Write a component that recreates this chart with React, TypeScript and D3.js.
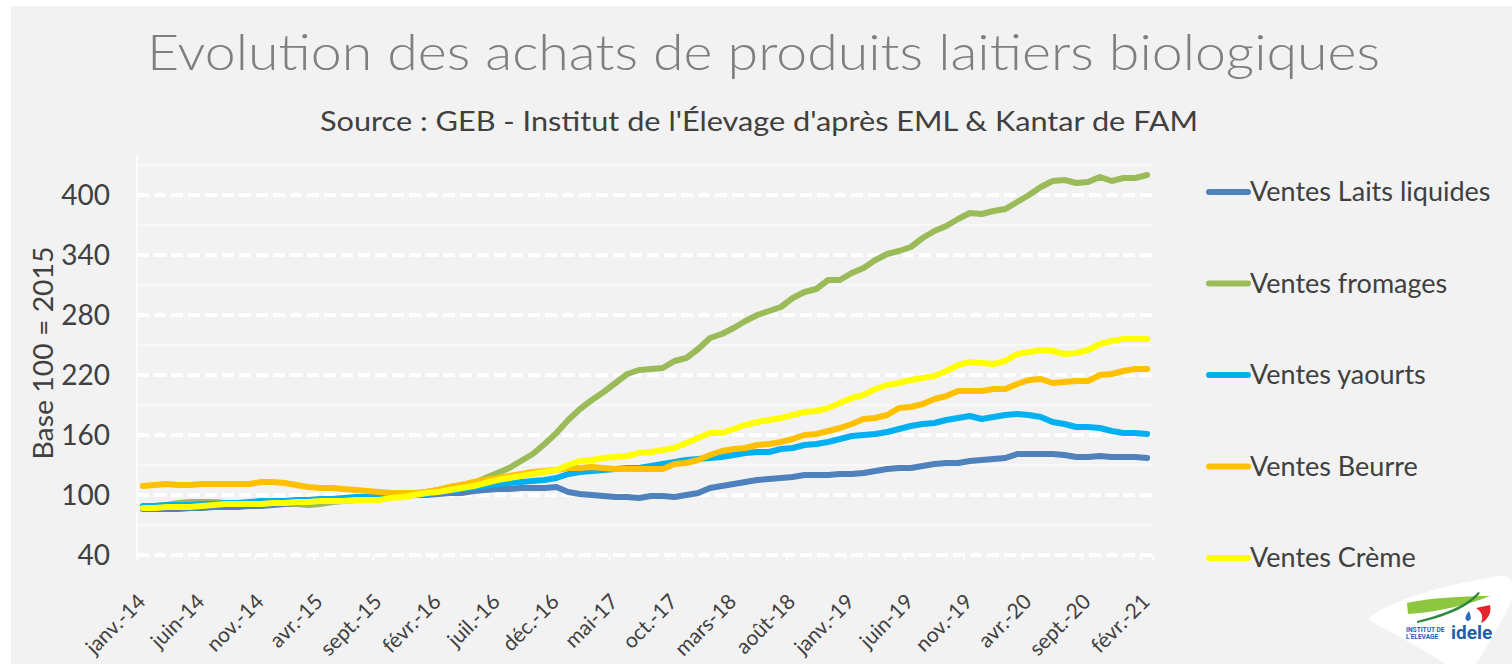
import React from 'react';
import * as d3 from 'd3';

// months janv.-14 .. févr.-21 (86 points)
const monthNames = ['janv.', 'févr.', 'mars', 'avr.', 'mai', 'juin', 'juil.', 'août', 'sept.', 'oct.', 'nov.', 'déc.'];
const years = ['14', '15', '16', '17', '18', '19', '20', '21'];
const months = years.flatMap((yy) => monthNames.map((m) => `${m}-${yy}`)).slice(0, 86);

const laits = [
  86, 86, 86, 86, 87, 87, 88, 88, 88, 89, 89, 90, 91, 91, 92, 93, 94, 95, 96, 97,
  97, 98, 99, 100, 100, 101, 102, 102, 104, 105, 106, 106, 107, 107, 107, 108, 103, 101, 100, 99,
  98, 98, 97, 99, 99, 98, 100, 102, 107, 109, 111, 113, 115, 116, 117, 118, 120, 120, 120, 121,
  121, 122, 124, 126, 127, 127, 129, 131, 132, 132, 134, 135, 136, 137, 141, 141, 141, 141, 140, 138,
  138, 139, 138, 138, 138, 137,
];

const fromages = [
  88, 89, 90, 92, 93, 93, 93, 92, 92, 92, 91, 92, 92, 91, 90, 91, 93, 94, 95, 96,
  97, 98, 99, 101, 103, 105, 108, 110, 112, 117, 122, 127, 134, 141, 151, 162, 175, 186, 195, 203,
  212, 221, 225, 226, 227, 234, 237, 246, 257, 261, 267, 274, 280, 284, 288, 297, 303, 306, 315, 315,
  322, 327, 335, 341, 344, 348, 357, 364, 369, 376, 382, 381, 384, 386, 393, 400, 408, 414, 415, 412,
  413, 418, 414, 417, 417, 420,
];

const yaourts = [
  89, 89, 90, 90, 90, 91, 91, 92, 92, 93, 94, 94, 94, 95, 95, 96, 96, 97, 98, 98,
  99, 99, 100, 100, 101, 103, 104, 106, 108, 109, 111, 112, 113, 114, 115, 117, 121, 123, 124, 125,
  126, 127, 127, 129, 131, 133, 135, 136, 137, 138, 140, 142, 143, 143, 146, 147, 150, 151, 153, 156,
  159, 160, 161, 163, 166, 169, 171, 172, 175, 177, 179, 176, 178, 180, 181, 180, 178, 173, 171, 168,
  168, 167, 164, 162, 162, 161,
];

const beurre = [
  109, 110, 111, 110, 110, 111, 111, 111, 111, 111, 113, 113, 112, 110, 108, 107, 107, 106, 105, 104,
  103, 102, 102, 102, 103, 105, 108, 110, 113, 115, 117, 119, 121, 123, 124, 125, 127, 127, 128, 127,
  126, 126, 126, 126, 126, 131, 132, 135, 140, 144, 146, 147, 150, 151, 153, 156, 160, 161, 164, 167,
  171, 176, 177, 180, 187, 188, 191, 196, 199, 204, 204, 204, 206, 206, 211, 215, 216, 212, 213, 214,
  214, 220, 221, 224, 226, 226,
];

const creme = [
  87, 87, 88, 88, 88, 89, 90, 91, 91, 91, 91, 92, 92, 93, 93, 94, 94, 94, 95, 95,
  95, 97, 98, 100, 102, 103, 105, 107, 109, 112, 115, 117, 119, 121, 123, 125, 130, 134, 135, 137,
  138, 139, 142, 143, 145, 147, 152, 157, 162, 162, 166, 170, 173, 175, 177, 180, 183, 184, 187, 192,
  197, 200, 206, 210, 212, 215, 217, 219, 224, 230, 233, 232, 231, 234, 241, 243, 245, 244, 241, 242,
  245, 251, 254, 256, 256, 256,
];

const seriesNames = ['Ventes Laits liquides', 'Ventes fromages', 'Ventes yaourts', 'Ventes Beurre', 'Ventes Crème'];
const seriesColors = ['#4f81bd', '#9bbb59', '#00b0f0', '#ffc000', '#ffff00'];
const seriesValues = [laits, fromages, yaourts, beurre, creme];

const yTicks = [40, 100, 160, 220, 280, 340, 400];
const yMinorTicks = [70, 130, 190, 250, 310, 370, 430];

const FONT = 'Lato, "Open Sans", sans-serif';
const TEXT = '#404040';

export default function App() {
  const width = 1512;
  const height = 664;

  const x = d3.scaleBand<string>().domain(months).range([137, 1153]).paddingInner(0).paddingOuter(0);
  const y = d3.scaleLinear().domain([40, 440]).range([555, 155]);
  const cx = (i: number) => (x(months[i]) as number) + x.bandwidth() / 2;

  const line = d3
    .line<number>()
    .x((d, i) => cx(i))
    .y((d) => y(d));

  const tickIdx = months.map((m, i) => i).filter((i) => i % 5 === 0);

  return (
    <svg
      width={width}
      height={height}
      style={{ position: 'absolute', left: 0, top: 0, display: 'block' }}
      fontFamily={FONT}
    >
      <rect x={0} y={0} width={width} height={height} fill="#ffffff" />
      <rect x={11} y={6} width={width - 11} height={height - 6} fill="#f2f2f2" />

      {/* title */}
      <text x={147} y={70} fontSize={50} fontWeight={300} fill="#7f7f7f" textLength={1233} lengthAdjust="spacingAndGlyphs">
        Evolution des achats de produits laitiers biologiques
      </text>
      <text x={320} y={131} fontSize={26} fill={TEXT} textLength={878} lengthAdjust="spacingAndGlyphs">
        Source : GEB - Institut de l'Élevage d'après EML &amp; Kantar de FAM
      </text>

      {/* minor grid */}
      {yMinorTicks.map((v) => (
        <line key={'m' + v} x1={137} x2={1153} y1={y(v)} y2={y(v)} stroke="#ffffff" strokeWidth={1} />
      ))}
      {/* major grid, dashed */}
      {yTicks.map((v) => (
        <line
          key={'g' + v}
          x1={137}
          x2={1153}
          y1={y(v)}
          y2={y(v)}
          stroke="#ffffff"
          strokeWidth={4}
          strokeDasharray="12 5"
        />
      ))}
      {/* vertical axis */}
      <line x1={137} x2={137} y1={155} y2={559} stroke="#ffffff" strokeWidth={1.5} />
      {/* x ticks */}
      {[...tickIdx.map((i) => x(months[i]) as number), 1153].map((px, k) => (
        <line key={'t' + k} x1={px} x2={px} y1={555} y2={560} stroke="#ffffff" strokeWidth={1.5} />
      ))}

      {/* y tick labels */}
      {yTicks.map((v) => (
        <text key={'yl' + v} x={110} y={y(v) + 10} fontSize={28} fill={TEXT} textAnchor="end">
          {v}
        </text>
      ))}
      <text
        transform={`translate(53,353) rotate(-90)`}
        fontSize={26}
        fill={TEXT}
        textAnchor="middle"
        textLength={213}
        lengthAdjust="spacingAndGlyphs"
      >
        Base 100 = 2015
      </text>

      {/* x tick labels */}
      {tickIdx.map((i) => (
        <text
          key={'xl' + i}
          transform={`translate(${cx(i) + 4},603) rotate(-45)`}
          fontSize={21}
          fill={TEXT}
          textAnchor="end"
        >
          {months[i]}
        </text>
      ))}

      {/* series */}
      {seriesValues.map((vals, s) => (
        <path
          key={'s' + s}
          d={line(vals) as string}
          fill="none"
          stroke={seriesColors[s]}
          strokeWidth={6}
          strokeLinejoin="round"
          strokeLinecap="round"
        />
      ))}

      {/* legend */}
      {seriesNames.map((name, s) => {
        const ly = 192 + s * 91.5;
        return (
          <g key={'lg' + s}>
            <line x1={1209} x2={1248} y1={ly} y2={ly} stroke={seriesColors[s]} strokeWidth={6} strokeLinecap="round" />
            <text x={1250} y={ly + 9} fontSize={27} fill={TEXT}>
              {name}
            </text>
          </g>
        );
      })}

      {/* logo */}
      <path
        d="M1370,617 C1395,598 1450,584 1500,576 Q1512,574 1512,586 L1512,600 C1500,625 1488,645 1476,664 L1446,664 C1420,648 1392,632 1372,622 Q1366,619 1370,617 Z"
        fill="#ffffff"
      />
      <path d="M1407,603 C1430,598 1462,596 1490,596 C1470,604 1440,612 1408,614 Z" fill="#8dc63f" />
      <path d="M1417,621 C1448,613 1468,604 1478,592 L1480,593 C1470,606 1450,616 1417,623 Z" fill="#2e8b3e" />
      <path d="M1476,608 L1490,605 C1492,612 1488,620 1481,623 C1484,616 1481,611 1476,608 Z" fill="#e3262d" />
      <path d="M1469,611 C1465,616 1464,620 1468,621 C1472,620 1471,616 1469,611 Z" fill="#2a6ebb" />
      <text x={1406} y={632} fontSize={6.6} fontWeight={700} fill="#1f5fae" fontFamily="Roboto, sans-serif">
        INSTITUT DE
      </text>
      <text x={1406} y={639} fontSize={6.6} fontWeight={700} fill="#1f5fae" fontFamily="Roboto, sans-serif">
        L'ELEVAGE
      </text>
      <text x={1451} y={639} fontSize={19} fontWeight={700} fill="#1f5fae" fontFamily="Roboto, sans-serif">
        idele
      </text>
    </svg>
  );
}
